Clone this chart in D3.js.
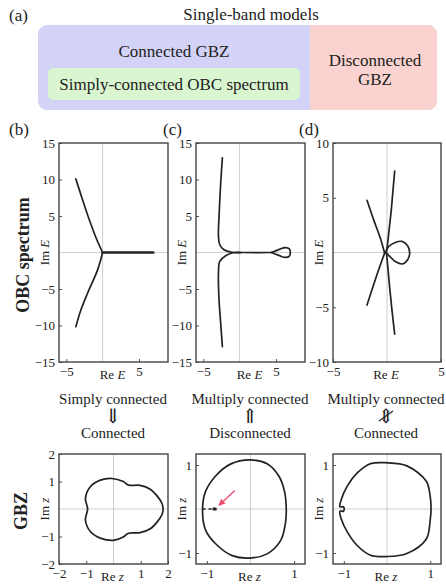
<!DOCTYPE html>
<html>
<head>
<meta charset="utf-8">
<script src="https://cdn.jsdelivr.net/npm/d3@7.9.0/dist/d3.min.js"></script>
<style>
  body { margin: 0; background: #fff; }
  svg text { font-family: "Liberation Serif", "DejaVu Serif", serif; fill: #222; }
</style>
</head>
<body>
<svg id="fig" width="446" height="585"></svg>
<script>
// ---- data ----
// OBC spectra (Re E, Im E)
const obcB_up   = [[0, 0], [-0.79, 1.74], [-1.83, 4.49], [-2.99, 7.93], [-3.68, 10.08]];
const obcB_down = [[0, 0], [-0.69, -2.38], [-2.07, -5.58], [-2.99, -7.87], [-3.68, -10.16]];
const obcB_flat = [[0, 0], [6.98, 0]];

const obcC_up   = [[-2.37, 12.97], [-2.6, 9.53], [-2.83, 4.95], [-2.91, 2.2], [-2.73, 1.06], [-2.15, 0.37], [-1.03, 0.03], [0.5, 0], [4.36, 0]];
const obcC_down = [[-2.37, -12.9], [-2.6, -9.7], [-2.83, -6.5], [-2.91, -2.84], [-2.73, -1.23], [-1.92, -0.45], [-0.9, -0.03], [0.2, 0]];
const obcC_loop = [[4.36, 0], [5.4, 0.4], [6.3, 0.68], [6.85, 0.5], [6.98, 0], [6.85, -0.5], [6.3, -0.68], [5.4, -0.4], [4.36, 0]];

const obcD_upLeft   = [[-1.85, 4.77], [-1.24, 3.0], [-0.62, 1.32], [-0.22, -0.06]];
const obcD_downLeft = [[-0.22, -0.06], [-0.78, -1.59], [-1.3, -3.12], [-1.85, -4.8]];
const obcD_steep    = [[0.71, 7.43], [0.4, 3.92], [0.06, 0.86], [-0.05, 0], [0.24, -3.12], [0.46, -5.26], [0.71, -7.46]];
const obcD_loop     = [[-0.15, 0], [0.15, 0.55], [0.77, 0.92], [1.39, 1.01], [1.91, 0.61], [2.1, -0.06], [1.91, -0.67], [1.48, -1.04], [0.77, -0.83], [0.2, -0.3], [-0.15, 0]];

// GBZ curves (Re z, Im z)
const gbzB = [[-0.06, 1.11], [-0.48, 1.05], [-0.85, 0.81], [-1.03, 0.39], [-0.95, 0], [-1.03, -0.4], [-0.85, -0.82], [-0.48, -1.06], [0, -1.14], [0.36, -1.02], [0.55, -0.88], [0.97, -0.86], [1.35, -0.72], [1.62, -0.45], [1.78, -0.2], [1.82, 0], [1.78, 0.2], [1.62, 0.45], [1.35, 0.72], [0.97, 0.86], [0.55, 0.87], [0.36, 1.0]];
const gbzC = [[0, 1.115], [-0.46, 1.02], [-0.8, 0.75], [-1.03, 0.4], [-1.1, 0], [-1.03, -0.48], [-0.8, -0.79], [-0.42, -1.06], [0, -1.115], [0.38, -1.02], [0.69, -0.72], [0.8, -0.33], [0.82, 0], [0.78, 0.4], [0.65, 0.75], [0.38, 1.03]];
const gbzC_dash = [[-1.1, 0], [-0.78, 0]];
const gbzC_dot  = [[-0.87, 0], [-0.78, 0]];
const gbzC_arrow = [[-0.36, 0.42], [-0.74, 0.07]];
const gbzD = [[0, 1.05], [-0.385, 1.03], [-0.69, 0.82], [-0.92, 0.52], [-1.06, 0.21], [-1.09, 0.05], [-1.01, 0.05], [-0.99, 0], [-1.01, -0.05], [-1.09, -0.05], [-1.06, -0.22], [-0.92, -0.52], [-0.69, -0.83], [-0.385, -1.05], [0, -1.08], [0.46, -1.01], [0.91, -0.68], [1.0, -0.25], [1.02, 0], [1.0, 0.28], [0.91, 0.63], [0.46, 0.98]];

// tick labels
const obcXTicks = [-5, 5];
const obcYTicks15 = [15, 10, 5, -5, -10, -15];
const obcYTicks10 = [10, 5, -5, -10];
const gbzTicks2 = [-2, -1, 1, 2];
const gbzTicks1 = [-1, 1];

const svg = d3.select('#fig');
const ink = '#222';

// ---- panel (a) ----
svg.append('text').attr('x', 9).attr('y', 21).attr('font-size', 17).text('(a)');
svg.append('text').attr('x', 251).attr('y', 20).attr('font-size', 17).attr('text-anchor', 'middle').text('Single-band models');
svg.append('rect').attr('x', 38).attr('y', 25).attr('width', 399).attr('height', 85).attr('rx', 9).attr('fill', '#d2d3f7');
svg.append('rect').attr('x', 310).attr('y', 25).attr('width', 127).attr('height', 85).attr('rx', 9).attr('fill', '#fad2cf');
svg.append('rect').attr('x', 310).attr('y', 25).attr('width', 20).attr('height', 85).attr('fill', '#fad2cf');
svg.append('rect').attr('x', 48).attr('y', 68).attr('width', 252).attr('height', 32).attr('rx', 5).attr('fill', '#d9f6d1');
svg.append('text').attr('x', 174).attr('y', 57).attr('font-size', 17).attr('text-anchor', 'middle').text('Connected GBZ');
svg.append('text').attr('x', 174).attr('y', 90).attr('font-size', 17).attr('text-anchor', 'middle').text('Simply-connected OBC spectrum');
svg.append('text').attr('x', 375).attr('y', 66).attr('font-size', 17).attr('text-anchor', 'middle').text('Disconnected');
svg.append('text').attr('x', 375).attr('y', 85).attr('font-size', 17).attr('text-anchor', 'middle').text('GBZ');

// ---- generic panel ----
function panel(o) {
  const x = d3.scaleLinear().domain(o.xdom).range([o.left, o.right]);
  const y = d3.scaleLinear().domain(o.ydom).range([o.bottom, o.top]);
  const g = svg.append('g');

  // zero lines
  g.append('line').attr('x1', x(0)).attr('x2', x(0)).attr('y1', o.top).attr('y2', o.bottom)
    .attr('stroke', '#cfcfcf').attr('stroke-width', 1);
  g.append('line').attr('x1', o.left).attr('x2', o.right).attr('y1', y(0)).attr('y2', y(0))
    .attr('stroke', '#cfcfcf').attr('stroke-width', 1);

  // inward ticks with labels, box drawn on top
  const xAxis = d3.axisBottom(x).tickValues(o.xticks).tickSize(-3).tickPadding(5).tickFormat(d3.format('d'));
  const yAxis = d3.axisLeft(y).tickValues(o.yticks).tickSize(-3).tickPadding(4).tickFormat(d3.format('d'));
  const gx = g.append('g').attr('transform', `translate(0,${o.bottom})`).call(xAxis);
  const gy = g.append('g').attr('transform', `translate(${o.left},0)`).call(yAxis);
  [gx, gy].forEach(a => {
    a.select('.domain').remove();
    a.selectAll('line').attr('stroke', '#555');
    a.selectAll('text').attr('font-size', 13).attr('font-family', '"Liberation Serif", serif').attr('fill', ink);
  });

  g.append('rect').attr('x', o.left).attr('y', o.top).attr('width', o.right - o.left).attr('height', o.bottom - o.top)
    .attr('fill', 'none').attr('stroke', '#444').attr('stroke-width', 1.4);

  // axis labels
  const xl = g.append('text').attr('x', (o.left + o.right) / 2 - 1).attr('y', o.bottom + 17)
    .attr('font-size', 13).attr('text-anchor', 'middle');
  xl.append('tspan').text(o.xlab[0] + ' ');
  xl.append('tspan').attr('font-style', 'italic').text(o.xlab[1]);
  const yc = (o.top + o.bottom) / 2;
  const yl = g.append('text').attr('transform', `translate(${o.left - 10},${yc}) rotate(-90)`)
    .attr('font-size', 13).attr('text-anchor', 'middle');
  yl.append('tspan').text(o.ylab[0] + ' ');
  yl.append('tspan').attr('font-style', 'italic').text(o.ylab[1]);

  const line = d3.line().x(d => x(d[0])).y(d => y(d[1]));
  return { g, x, y, line };
}

function curve(p, data, kind, width) {
  const gen = p.line.curve(kind);
  p.g.append('path').attr('d', gen(data)).attr('fill', 'none')
    .attr('stroke', ink).attr('stroke-width', width || 1.7).attr('stroke-linejoin', 'round').attr('stroke-linecap', 'round');
}

// panel labels
[['(b)', 9], ['(c)', 163], ['(d)', 299]].forEach(([t, xx]) => {
  svg.append('text').attr('x', xx).attr('y', 135).attr('font-size', 17).text(t);
});

// ---- OBC spectra ----
const obcCols = [{ left: 59, right: 168 }, { left: 196, right: 305 }, { left: 333, right: 441 }];
const pB = panel({ ...obcCols[0], top: 143, bottom: 362, xdom: [-6, 9], ydom: [-15, 15], xticks: obcXTicks, yticks: obcYTicks15, xlab: ['Re', 'E'], ylab: ['Im', 'E'] });
curve(pB, obcB_up, d3.curveCatmullRom);
curve(pB, obcB_down, d3.curveCatmullRom);
curve(pB, obcB_flat, d3.curveLinear, 2.4);

const pC = panel({ ...obcCols[1], top: 143, bottom: 362, xdom: [-6, 9], ydom: [-15, 15], xticks: obcXTicks, yticks: obcYTicks15, xlab: ['Re', 'E'], ylab: ['Im', 'E'] });
curve(pC, obcC_up, d3.curveCatmullRom);
curve(pC, obcC_down, d3.curveCatmullRom);
curve(pC, obcC_loop, d3.curveCatmullRom);

const pD = panel({ ...obcCols[2], top: 143, bottom: 362, xdom: [-5, 5], ydom: [-10, 10], xticks: obcXTicks, yticks: obcYTicks10, xlab: ['Re', 'E'], ylab: ['Im', 'E'] });
curve(pD, obcD_upLeft, d3.curveCatmullRom);
curve(pD, obcD_downLeft, d3.curveCatmullRom);
curve(pD, obcD_steep, d3.curveLinear);
curve(pD, obcD_loop, d3.curveCatmullRom);

svg.append('text').attr('x', 23).attr('y', 255).attr('transform', 'rotate(-90,23,255)')
  .attr('font-size', 18).attr('font-weight', 'bold').attr('text-anchor', 'middle').attr('dominant-baseline', 'central').text('OBC spectrum');

// ---- middle captions ----
const capTop = ['Simply connected', 'Multiply connected', 'Multiply connected'];
const capArrow = ['\u21D3', '\u21D1', '\u21D5'];
const capBottom = ['Connected', 'Disconnected', 'Connected'];
const capX = [113, 250, 386];
capX.forEach((cx, i) => {
  svg.append('text').attr('x', cx).attr('y', 404).attr('font-size', 15).attr('text-anchor', 'middle').text(capTop[i]);
  svg.append('text').attr('x', cx).attr('y', 423).attr('font-size', 20).attr('text-anchor', 'middle')
    .attr('font-family', '"DejaVu Sans", sans-serif').text(capArrow[i]);
  svg.append('text').attr('x', cx).attr('y', 438).attr('font-size', 15).attr('text-anchor', 'middle').text(capBottom[i]);
});
svg.append('line').attr('x1', capX[2] - 7).attr('y1', 421).attr('x2', capX[2] + 7).attr('y2', 411)
  .attr('stroke', ink).attr('stroke-width', 1.1);

// ---- GBZ ----
const qB = panel({ ...obcCols[0], top: 454, bottom: 564, xdom: [-2, 2], ydom: [-2, 2], xticks: gbzTicks2, yticks: gbzTicks2.slice().reverse(), xlab: ['Re', 'z'], ylab: ['Im', 'z'] });
curve(qB, gbzB, d3.curveCatmullRomClosed);

const qC = panel({ ...obcCols[1], top: 454, bottom: 564, xdom: [-1.25, 1.25], ydom: [-1.25, 1.25], xticks: gbzTicks1, yticks: gbzTicks1, xlab: ['Re', 'z'], ylab: ['Im', 'z'] });
curve(qC, gbzC, d3.curveCatmullRomClosed);
qC.g.append('path').attr('d', qC.line.curve(d3.curveLinear)(gbzC_dash)).attr('stroke', ink)
  .attr('stroke-width', 1.6).attr('stroke-dasharray', '3,3');
qC.g.append('path').attr('d', qC.line.curve(d3.curveLinear)(gbzC_dot)).attr('stroke', ink).attr('stroke-width', 3);
{
  const [a, b] = gbzC_arrow.map(d => [qC.x(d[0]), qC.y(d[1])]);
  const ang = Math.atan2(b[1] - a[1], b[0] - a[0]);
  const hl = 7, hw = 3.2;
  const bx = b[0] - hl * Math.cos(ang), by = b[1] - hl * Math.sin(ang);
  qC.g.append('line').attr('x1', a[0]).attr('y1', a[1]).attr('x2', bx).attr('y2', by)
    .attr('stroke', '#ec4d6c').attr('stroke-width', 1.4);
  qC.g.append('path').attr('fill', '#ec4d6c').attr('d',
    `M${b[0]},${b[1]}L${bx - hw * Math.sin(ang)},${by + hw * Math.cos(ang)}L${bx + hw * Math.sin(ang)},${by - hw * Math.cos(ang)}Z`);
}

const qD = panel({ ...obcCols[2], top: 454, bottom: 564, xdom: [-1.25, 1.25], ydom: [-1.25, 1.25], xticks: gbzTicks1, yticks: gbzTicks1, xlab: ['Re', 'z'], ylab: ['Im', 'z'] });
curve(qD, gbzD, d3.curveCatmullRomClosed);

svg.append('text').attr('x', 21).attr('y', 511).attr('transform', 'rotate(-90,21,511)')
  .attr('font-size', 18).attr('font-weight', 'bold').attr('text-anchor', 'middle').attr('dominant-baseline', 'central').text('GBZ');
</script>
</body>
</html>
